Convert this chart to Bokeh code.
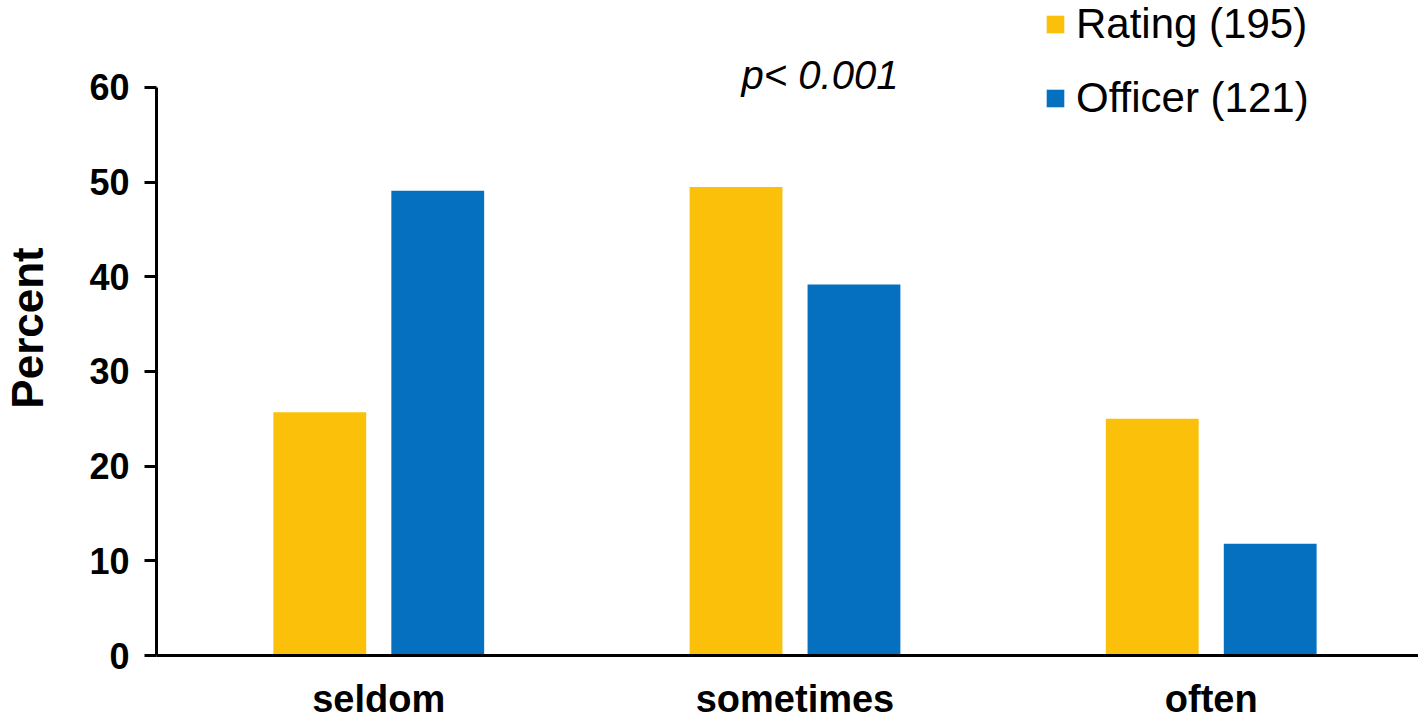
from bokeh.plotting import figure
from bokeh.models import ColumnDataSource, Range1d, FixedTicker, Legend, LegendItem, Label
from bokeh.embed import file_html
from bokeh.resources import INLINE

categories = ["seldom", "sometimes", "often"]
rating = [25.7, 49.5, 25.0]
officer = [49.1, 39.2, 11.8]
series_names = ["Rating (195)", "Officer (121)"]
y_ticks = [0, 10, 20, 30, 40, 50, 60]
p_text = "p< 0.001"

FONT = "Liberation Sans"
YELLOW = "#FBC00A"
BLUE = "#0670C0"

idx = list(range(len(categories)))
offset = 0.1417
bw = 0.223
src = ColumnDataSource(dict(
    xr=[i - offset for i in idx],
    xo=[i + offset for i in idx],
    rating=rating,
    officer=officer,
))

p = figure(width=1418, height=723, output_backend="svg", toolbar_location=None,
           x_range=Range1d(-0.534, 2.498), y_range=Range1d(0, 69.19),
           min_border_left=155, min_border_right=0, min_border_top=0, min_border_bottom=68)
p.outline_line_color = None
p.xgrid.visible = False
p.ygrid.visible = False

r1 = p.vbar(x="xr", top="rating", width=bw, source=src, fill_color=YELLOW, line_color=None)
r2 = p.vbar(x="xo", top="officer", width=bw, source=src, fill_color=BLUE, line_color=None)

# axes
xa = p.xaxis[0]
xa.ticker = FixedTicker(ticks=idx)
xa.major_label_overrides = {i: c for i, c in zip(idx, categories)}
xa.major_tick_line_color = None
xa.minor_tick_line_color = None
xa.axis_line_width = 3
xa.axis_line_color = "black"
xa.major_label_text_font = FONT
xa.major_label_text_font_style = "bold"
xa.major_label_text_font_size = "38px"
xa.major_label_text_color = "black"
xa.major_label_standoff = 16

ya = p.yaxis[0]
ya.ticker = FixedTicker(ticks=y_ticks)
ya.bounds = (0, 60)
ya.axis_line_width = 3
ya.axis_line_color = "black"
ya.major_tick_line_width = 3
ya.major_tick_line_color = "black"
ya.major_tick_out = 12
ya.major_tick_in = 0
ya.minor_tick_line_color = None
ya.major_label_text_font = FONT
ya.major_label_text_font_style = "bold"
ya.major_label_text_font_size = "36px"
ya.major_label_text_color = "black"
ya.major_label_standoff = 15
ya.axis_label = "Percent"
ya.axis_label_text_font = FONT
ya.axis_label_text_font_style = "bold"
ya.axis_label_text_font_size = "44px"
ya.axis_label_text_color = "black"
ya.axis_label_standoff = 34

legend = Legend(items=[LegendItem(label=series_names[0], renderers=[r1]),
                       LegendItem(label=series_names[1], renderers=[r2])],
                location=(888, 533), orientation="vertical",
                padding=0, margin=0, spacing=26,
                glyph_width=22, glyph_height=22, label_standoff=10,
                label_text_font=FONT, label_text_font_size="42px", label_text_color="black",
                border_line_color=None, background_fill_alpha=0)
p.add_layout(legend, "center")

p.add_layout(Label(x=1.06, y=61.27, text=p_text, text_font=FONT, text_font_style="italic",
                   text_font_size="40px", text_align="center", text_baseline="middle",
                   text_color="black"))

open("out.html", "w").write(file_html(p, INLINE))
